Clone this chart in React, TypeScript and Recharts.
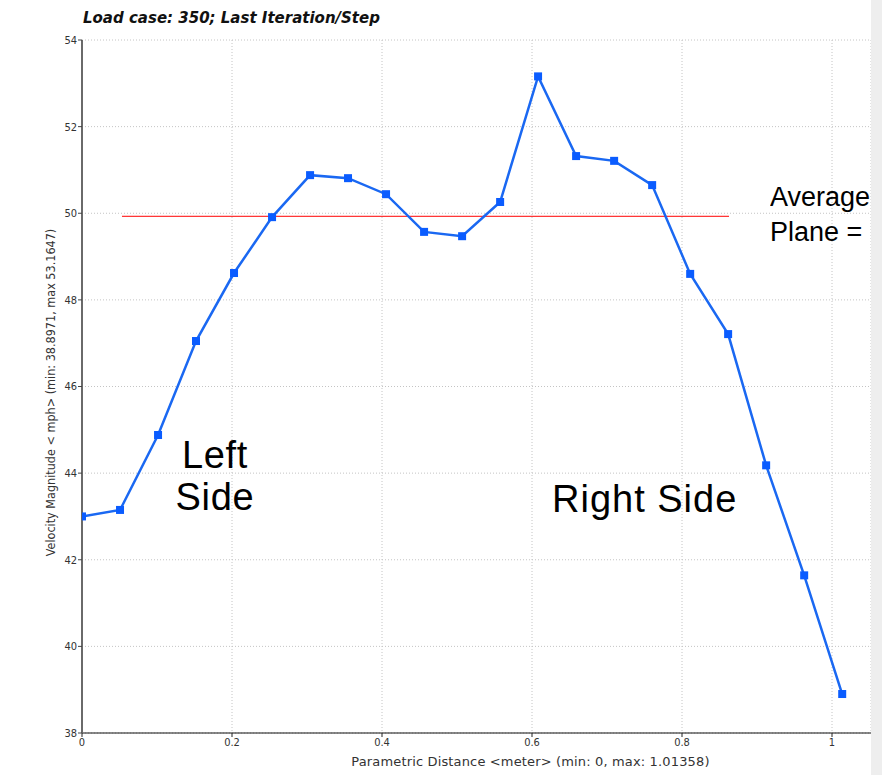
import React from 'react';
import { LineChart, Line, XAxis, YAxis, CartesianGrid } from 'recharts';

// parametric distance along the probe line (meter)
const distance = [
  0, 0.0507, 0.1014, 0.152, 0.2027, 0.2534, 0.3041, 0.3547, 0.4054, 0.4561, 0.5068,
  0.5575, 0.6081, 0.6588, 0.7095, 0.7602, 0.8109, 0.8615, 0.9122, 0.9629, 1.0136,
];
// velocity magnitude (mph)
const velocity = [
  43.0, 43.15, 44.88, 47.05, 48.62, 49.91, 50.88, 50.81, 50.44, 49.57, 49.47,
  50.26, 53.16, 51.32, 51.21, 50.65, 48.6, 47.21, 44.18, 41.64, 38.9,
];
// average plane line
const avgX = [0.0533, 0.8627];
const avgY = [49.93, 49.93];

const xTicks = [0, 0.2, 0.4, 0.6, 0.8, 1];
const yTicks = [38, 40, 42, 44, 46, 48, 50, 52, 54];

const title = 'Load case: 350; Last Iteration/Step';
const xTitle = 'Parametric Distance <meter> (min: 0, max: 1.01358)';
const yTitle = 'Velocity Magnitude < mph>  (min: 38.8971, max 53.1647)';

const data = distance.map((x, i) => ({ x, v: velocity[i] }));
const avgData = avgX.map((x, i) => ({ x, v: avgY[i] }));

const tickFont = { fill: '#333', fontSize: 11, fontFamily: "'DejaVu Sans Condensed', 'DejaVu Sans', sans-serif" };
const noteFont = "'Liberation Sans', Arial, sans-serif";

const SquareDot = (props: any) => {
  const { cx, cy, index } = props;
  if (cx == null || cy == null) return null;
  return <rect key={index} x={cx - 4} y={cy - 4} width={8} height={8} fill="#0a5cff" />;
};

export default function App() {
  return (
    <div style={{ position: 'absolute', left: 0, top: 0, width: 882, height: 775, background: '#fff' }}>
      <div
        style={{
          position: 'absolute', left: 83, top: 10, fontSize: 15, lineHeight: '17px',
          fontFamily: "'DejaVu Sans', sans-serif", fontWeight: 'bold', fontStyle: 'italic', color: '#111',
        }}
      >
        {title}
      </div>
      <LineChart width={882} height={775} data={data} margin={{ top: 40, right: 11, bottom: 0, left: 42 }}>
        <CartesianGrid stroke="#c4c4c4" strokeDasharray="1 2" />
        <XAxis
          dataKey="x"
          type="number"
          domain={[0, 1.052]}
          ticks={xTicks}
          allowDataOverflow
          height={42}
          tick={tickFont}
          tickSize={4}
          tickMargin={1}
          tickLine={{ stroke: '#222' }}
          axisLine={{ stroke: '#111', strokeWidth: 1 }}
          label={{
            value: xTitle, position: 'insideBottom', offset: 9, dx: 54,
            style: { fill: '#333', fontSize: 13, letterSpacing: 0.15, fontFamily: "'DejaVu Sans', sans-serif" },
          }}
        />
        <YAxis
          type="number"
          domain={[38, 54]}
          ticks={yTicks}
          width={40}
          tick={tickFont}
          tickSize={4}
          tickMargin={1}
          tickLine={{ stroke: '#444' }}
          axisLine={{ stroke: '#6a6a6a', strokeWidth: 2 }}
          label={{
            value: yTitle, angle: -90, position: 'insideLeft', offset: 9, dx: 0, dy: 6,
            style: { textAnchor: 'middle', fill: '#333', fontSize: 12.5, fontFamily: "'DejaVu Sans Condensed', 'DejaVu Sans', sans-serif" },
          }}
        />
        <Line
          data={avgData}
          dataKey="v"
          stroke="#ff0000"
          strokeWidth={1}
          dot={false}
          isAnimationActive={false}
        />
        <Line
          dataKey="v"
          stroke="#1a68f2"
          strokeWidth={2.5}
          dot={SquareDot}
          activeDot={false}
          isAnimationActive={false}
        />
      </LineChart>
      <div
        style={{
          position: 'absolute', left: 154, top: 434, width: 122, textAlign: 'center',
          fontFamily: noteFont, fontSize: 38, lineHeight: '42px', letterSpacing: 0.7, color: '#000',
        }}
      >
        Left
        <br />
        Side
      </div>
      <div
        style={{
          position: 'absolute', left: 552, top: 478, fontFamily: noteFont, fontSize: 38,
          lineHeight: '42px', letterSpacing: 1, color: '#000', whiteSpace: 'nowrap',
        }}
      >
        Right Side
      </div>
      <div style={{ position: 'absolute', left: 770, top: 180, width: 101, overflow: 'hidden' }}>
        <div style={{ fontFamily: noteFont, fontSize: 27, lineHeight: '35px', color: '#000', whiteSpace: 'nowrap' }}>
          Average
          <br />
          Plane =
        </div>
      </div>
      <div style={{ position: 'absolute', left: 871, top: 0, width: 11, height: 775, background: '#eeeeee' }} />
    </div>
  );
}
